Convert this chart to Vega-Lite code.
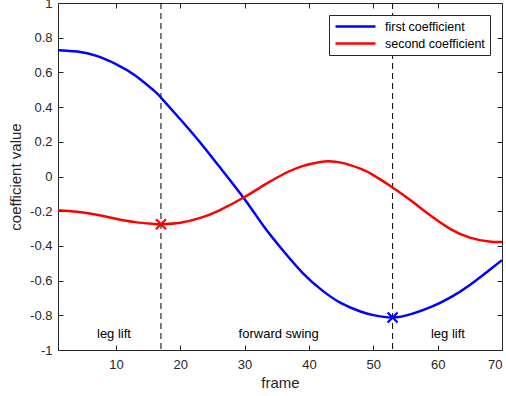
{
  "$schema": "https://vega.github.io/schema/vega-lite/v6.json",
  "width": 444,
  "height": 347,
  "autosize": "none",
  "padding": {"left": 58, "top": 3, "right": 4, "bottom": 46},
  "config": {
    "view": {"stroke": null},
    "font": "Liberation Sans",
    "axis": {
      "grid": false,
      "domainColor": "#262626",
      "tickColor": "#262626",
      "labelColor": "#262626",
      "titleColor": "#262626",
      "labelFontSize": 13,
      "titleFontSize": 15,
      "titleFontWeight": "normal",
      "tickSize": -5,
      "domainWidth": 1,
      "tickWidth": 1
    }
  },
  "datasets": {
    "curves": [
      {"frame": 1, "value": 0.728, "series": "first coefficient"},
      {"frame": 4, "value": 0.72, "series": "first coefficient"},
      {"frame": 7, "value": 0.695, "series": "first coefficient"},
      {"frame": 10, "value": 0.648, "series": "first coefficient"},
      {"frame": 13, "value": 0.582, "series": "first coefficient"},
      {"frame": 16, "value": 0.492, "series": "first coefficient"},
      {"frame": 17, "value": 0.455, "series": "first coefficient"},
      {"frame": 20, "value": 0.33, "series": "first coefficient"},
      {"frame": 23, "value": 0.2, "series": "first coefficient"},
      {"frame": 26, "value": 0.06, "series": "first coefficient"},
      {"frame": 30, "value": -0.131, "series": "first coefficient"},
      {"frame": 33, "value": -0.288, "series": "first coefficient"},
      {"frame": 36, "value": -0.428, "series": "first coefficient"},
      {"frame": 39, "value": -0.555, "series": "first coefficient"},
      {"frame": 42, "value": -0.655, "series": "first coefficient"},
      {"frame": 45, "value": -0.73, "series": "first coefficient"},
      {"frame": 48, "value": -0.778, "series": "first coefficient"},
      {"frame": 50, "value": -0.799, "series": "first coefficient"},
      {"frame": 53, "value": -0.813, "series": "first coefficient"},
      {"frame": 56, "value": -0.792, "series": "first coefficient"},
      {"frame": 59, "value": -0.752, "series": "first coefficient"},
      {"frame": 62, "value": -0.697, "series": "first coefficient"},
      {"frame": 65, "value": -0.625, "series": "first coefficient"},
      {"frame": 68, "value": -0.54, "series": "first coefficient"},
      {"frame": 70, "value": -0.482, "series": "first coefficient"},
      {"frame": 1, "value": -0.194, "series": "second coefficient"},
      {"frame": 4, "value": -0.203, "series": "second coefficient"},
      {"frame": 7, "value": -0.22, "series": "second coefficient"},
      {"frame": 10, "value": -0.243, "series": "second coefficient"},
      {"frame": 13, "value": -0.263, "series": "second coefficient"},
      {"frame": 16, "value": -0.274, "series": "second coefficient"},
      {"frame": 17, "value": -0.275, "series": "second coefficient"},
      {"frame": 20, "value": -0.266, "series": "second coefficient"},
      {"frame": 23, "value": -0.24, "series": "second coefficient"},
      {"frame": 26, "value": -0.196, "series": "second coefficient"},
      {"frame": 30, "value": -0.118, "series": "second coefficient"},
      {"frame": 33, "value": -0.05, "series": "second coefficient"},
      {"frame": 36, "value": 0.013, "series": "second coefficient"},
      {"frame": 39, "value": 0.06, "series": "second coefficient"},
      {"frame": 42, "value": 0.085, "series": "second coefficient"},
      {"frame": 43, "value": 0.088, "series": "second coefficient"},
      {"frame": 45, "value": 0.08, "series": "second coefficient"},
      {"frame": 48, "value": 0.045, "series": "second coefficient"},
      {"frame": 50, "value": 0.008, "series": "second coefficient"},
      {"frame": 53, "value": -0.063, "series": "second coefficient"},
      {"frame": 56, "value": -0.143, "series": "second coefficient"},
      {"frame": 59, "value": -0.228, "series": "second coefficient"},
      {"frame": 62, "value": -0.303, "series": "second coefficient"},
      {"frame": 65, "value": -0.352, "series": "second coefficient"},
      {"frame": 68, "value": -0.375, "series": "second coefficient"},
      {"frame": 70, "value": -0.378, "series": "second coefficient"}
    ],
    "markers": [
      {"frame": 17, "value": -0.275, "series": "second coefficient"},
      {"frame": 53, "value": -0.813, "series": "first coefficient"}
    ],
    "phases": [
      {"frame": 17},
      {"frame": 53}
    ],
    "labels": [
      {"frame": 9.7, "value": -0.905, "label": "leg lift"},
      {"frame": 35.3, "value": -0.905, "label": "forward swing"},
      {"frame": 61.6, "value": -0.905, "label": "leg lift"}
    ]
  },
  "layer": [
    {
      "data": {"name": "phases"},
      "mark": {"type": "rule", "color": "#000000", "strokeWidth": 1, "strokeDash": [6, 4]},
      "encoding": {
        "x": {
          "field": "frame", "type": "quantitative",
          "scale": {"domain": [1, 70], "nice": false, "zero": false},
          "axis": {"orient": "top", "labels": false, "title": null, "values": [10, 20, 30, 40, 50, 60, 70]}
        }
      }
    },
    {
      "data": {"name": "curves"},
      "mark": {"type": "line", "strokeWidth": 2.5, "interpolate": "natural"},
      "encoding": {
        "x": {
          "field": "frame", "type": "quantitative",
          "scale": {"domain": [1, 70], "nice": false, "zero": false},
          "axis": {"orient": "bottom", "title": "frame", "values": [10, 20, 30, 40, 50, 60, 70], "labelPadding": 13, "titlePadding": 4}
        },
        "y": {
          "field": "value", "type": "quantitative",
          "scale": {"domain": [-1, 1], "nice": false, "zero": false},
          "axis": {
            "orient": "left", "title": "coefficient value",
            "values": [-1, -0.8, -0.6, -0.4, -0.2, 0, 0.2, 0.4, 0.6, 0.8, 1],
            "labelExpr": "replace(format(datum.value, '.1~f'), '\u2212', '-')",
            "labelPadding": 11, "titlePadding": 6
          }
        },
        "color": {
          "field": "series", "type": "nominal",
          "scale": {"domain": ["first coefficient", "second coefficient"], "range": ["#0000ff", "#ff0000"]},
          "legend": {
            "title": null, "orient": "top-right", "offset": 12,
            "symbolType": "M-4,0H4", "symbolSize": 100, "symbolStrokeWidth": 2.5,
            "symbolOffset": 15, "labelOffset": 23, "rowPadding": 4,
            "labelFontSize": 12.5, "labelColor": "#000000",
            "strokeColor": "#262626", "fillColor": "#ffffff", "padding": 5
          }
        }
      }
    },
    {
      "data": {"name": "markers"},
      "mark": {"type": "point", "shape": "M-1,-1L1,1M-1,1L1,-1", "size": 100, "strokeWidth": 2.2, "filled": false, "opacity": 1},
      "encoding": {
        "x": {"field": "frame", "type": "quantitative", "axis": null},
        "y": {
          "field": "value", "type": "quantitative",
          "axis": {"orient": "right", "labels": false, "title": null, "values": [-1, -0.8, -0.6, -0.4, -0.2, 0, 0.2, 0.4, 0.6, 0.8, 1]}
        },
        "color": {"field": "series", "type": "nominal", "legend": null}
      }
    },
    {
      "data": {"name": "labels"},
      "mark": {"type": "text", "fontSize": 13, "color": "#000000", "align": "center", "baseline": "middle"},
      "encoding": {
        "x": {"field": "frame", "type": "quantitative", "axis": null},
        "y": {"field": "value", "type": "quantitative", "axis": null},
        "text": {"field": "label"}
      }
    }
  ]
}
